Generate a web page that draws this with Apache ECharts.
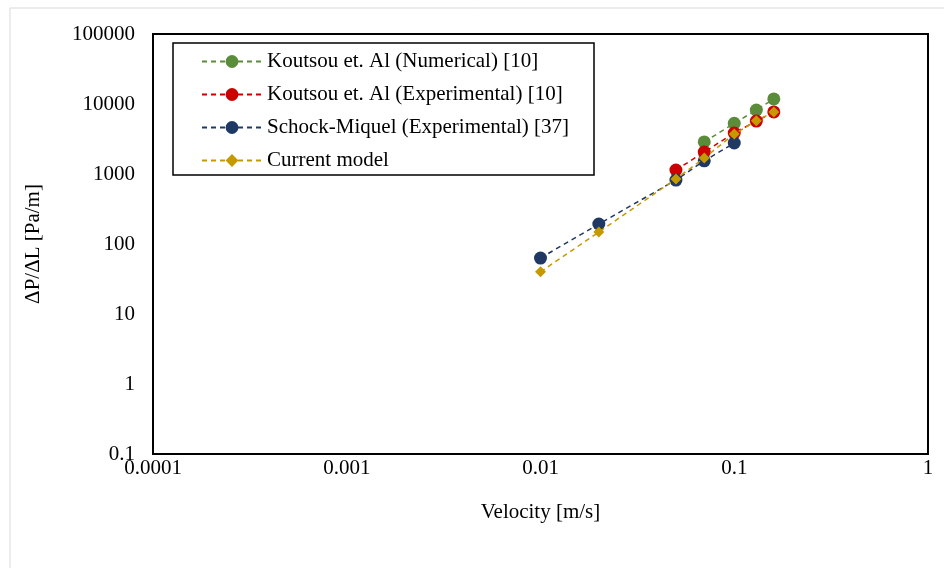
<!DOCTYPE html>
<html><head><meta charset="utf-8">
<script src="https://cdn.jsdelivr.net/npm/echarts@6/dist/echarts.min.js"></script>
<style>html,body{margin:0;padding:0;background:#fff}#c{width:944px;height:568px}</style>
</head><body><div id="c"></div>
<script>
const seriesNames = ['Koutsou et. Al (Numerical) [10]', 'Koutsou et. Al (Experimental) [10]', 'Schock-Miquel (Experimental) [37]', 'Current model'];
const numericalV = [0.07, 0.1, 0.13, 0.16];
const numericalP = [2870, 5300, 8200, 11800];
const experimentalV = [0.05, 0.07, 0.1, 0.13, 0.16];
const experimentalP = [1140, 2060, 3850, 5700, 7700];
const schockV = [0.01, 0.02, 0.05, 0.07, 0.1];
const schockP = [63, 193, 820, 1540, 2770];
const modelV = [0.01, 0.02, 0.05, 0.07, 0.1, 0.13, 0.16];
const modelP = [40, 148, 850, 1690, 3730, 5750, 7700];
const xTicks = [0.0001, 0.001, 0.01, 0.1, 1];
const yTicks = [0.1, 1, 10, 100, 1000, 10000, 100000];
const colors = ['#5B8C3A', '#CC0000', '#203864', '#C49A00'];

const font = 'Liberation Serif';
const fs = 21;
const zip = (a, b) => a.map((v, i) => [v, b[i]]);
const fmt = v => { const t = [...xTicks, ...yTicks].find(x => Math.abs(Math.log10(x) - Math.log10(v)) < 1e-6); return t !== undefined ? String(t) : ''; };

const mk = (i, xs, ys, sym, size) => ({
  name: seriesNames[i], type: 'line', data: zip(xs, ys), symbol: sym, symbolSize: size,
  itemStyle: { color: colors[i] }, lineStyle: { color: colors[i], type: [5, 4], width: 1.5 },
  z: 2 + i
});

const chart = echarts.init(document.getElementById('c'));
chart.setOption({
  animation: false,
  textStyle: { fontFamily: font },
  grid: { left: 153, right: 16, top: 34, bottom: 114, show: true, borderColor: '#000', borderWidth: 2, backgroundColor: 'transparent' },
  xAxis: {
    type: 'log', logBase: 10, min: 0.0001, max: 1,
    name: 'Velocity [m/s]', nameLocation: 'middle', nameGap: 48,
    nameTextStyle: { fontFamily: font, fontSize: fs, color: '#000' },
    axisLine: { show: false }, axisTick: { show: false }, splitLine: { show: false },
    axisLabel: { formatter: fmt, fontFamily: font, fontSize: fs, color: '#000', margin: 4 }
  },
  yAxis: {
    type: 'log', logBase: 10, min: 0.1, max: 100000,
    name: 'ΔP/ΔL [Pa/m]', nameLocation: 'middle', nameGap: 109, nameRotate: 90,
    nameTextStyle: { fontFamily: font, fontSize: fs, color: '#000' },
    axisLine: { show: false }, axisTick: { show: false }, splitLine: { show: false },
    axisLabel: { formatter: fmt, fontFamily: font, fontSize: fs, color: '#000', margin: 18 }
  },
  legend: {
    orient: 'vertical', left: 196, top: 46, itemWidth: 60, itemHeight: 16, itemGap: 12,
    textStyle: { fontFamily: font, fontSize: fs, color: '#000' },
    data: seriesNames
  },
  graphic: [
    { type: 'rect', shape: { x: 10, y: 8, width: 1000, height: 700 }, style: { fill: 'none', stroke: '#d9d9d9', lineWidth: 1 }, silent: true, z: -10 },
    { type: 'rect', shape: { x: 173, y: 43, width: 421, height: 132 }, style: { fill: '#fff', stroke: '#000', lineWidth: 1.5 }, silent: true, z: 0 }
  ],
  series: [
    mk(0, numericalV, numericalP, 'circle', 13),
    mk(1, experimentalV, experimentalP, 'circle', 13),
    mk(2, schockV, schockP, 'circle', 13),
    mk(3, modelV, modelP, 'diamond', 11)
  ]
});
</script></body></html>
